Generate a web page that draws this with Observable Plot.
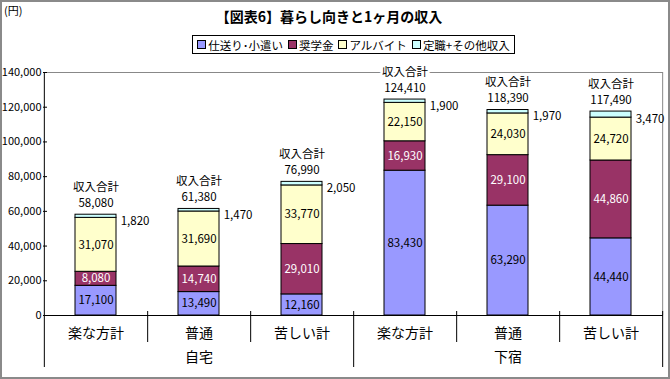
<!DOCTYPE html>
<html><head><meta charset="utf-8">
<script src="https://cdn.jsdelivr.net/npm/d3@7"></script>
<script src="https://cdn.jsdelivr.net/npm/@observablehq/plot@0.6"></script>
<style>
body{margin:0;background:#fff;}
#wrap{position:relative;width:670px;height:379px;font-family:"Noto Sans CJK JP","Noto Sans",sans-serif;overflow:hidden;}
#border{position:absolute;left:0;top:0;width:670px;height:379px;box-sizing:border-box;border:2px solid #8a8a8a;pointer-events:none;}
#title{position:absolute;left:0;width:658px;top:6px;text-align:center;font-size:14px;font-weight:700;color:#000;white-space:nowrap;}
#unit{position:absolute;left:4px;top:2px;font-size:11px;color:#000;}
#legend{position:absolute;left:192px;top:35px;width:323px;height:19px;box-sizing:border-box;border:1px solid #000;display:flex;align-items:center;justify-content:center;gap:5px;font-size:11.5px;color:#000;background:#fff;white-space:nowrap;}
#legend > span{white-space:nowrap;display:inline-flex;align-items:center;}
#legend span.sw{display:inline-block;width:7px;height:7px;border:1px solid #000;margin-right:2px;}
#chart{position:absolute;left:0;top:0;}
</style></head>
<body>
<div id="wrap">
  <div id="chart"></div>
  <div id="unit">(円)</div>
  <div id="title">【図表6】暮らし向きと1ヶ月の収入</div>
  <div id="legend"></div>
  <div id="border"></div>
</div>
<script>
const groups = ["自宅","自宅","自宅","下宿","下宿","下宿"];
const categories = ["楽な方計","普通","苦しい計","楽な方計","普通","苦しい計"];
const series = ["仕送り･小遣い","奨学金","アルバイト","定職+その他収入"];
const colors = ["#9999FF","#993366","#FFFFCC","#CCFFFF"];
const shiokuri = [17100,13490,12160,83430,63290,44440];
const shogakukin = [8080,14740,29010,16930,29100,44860];
const arubaito = [31070,31690,33770,22150,24030,24720];
const teishoku = [1820,1470,2050,1900,1970,3470];
const totals = [58080,61380,76990,124410,118390,117490];
const yTicks = [0,20000,40000,60000,80000,100000,120000,140000];

const keys = categories.map((c,i)=>groups[i]+"/"+c);
const seriesValues = [shiokuri, shogakukin, arubaito, teishoku];
const data = [];
keys.forEach((k,i)=>{
  series.forEach((s,j)=>data.push({key:k, series:s, value:seriesValues[j][i]}));
});
const totalData = keys.map((k,i)=>({key:k,total:totals[i]}));
const groupData = [{key:keys[1],label:"自宅"},{key:keys[4],label:"下宿"}];
const sepData = keys.map((k,i)=>({key:k,long:groups[i]!==groups[i+1]}));

const W=670,H=379,mL=43,mR=7,mT=72,mB=64;
const innerW=W-mL-mR, innerH=H-mT-mB;
const step=innerW/keys.length;
const bw=step*0.4;
const fmt=d3.format(",");

function segText(name){
  return d=>d.series===name?fmt(d.value):null;
}
const stackOpts = (name)=>Plot.stackY({x:"key",y:"value",z:"series",text:segText(name)});

const plot = Plot.plot({
  width:W,height:H,marginLeft:mL,marginRight:mR,marginTop:mT,marginBottom:mB,
  style:{fontFamily:'"Noto Sans CJK JP","Noto Sans",sans-serif',fontSize:"11px",background:"transparent",color:"#000"},
  x:{domain:keys,paddingInner:0.6,paddingOuter:0.3,axis:null},
  y:{domain:[0,140000],axis:null},
  color:{domain:series,range:colors},
  marks:[
    Plot.ruleY([140000],{stroke:"#888",strokeWidth:1}),
    Plot.ruleX(sepData.slice(-1),{x:"key",dx:step/2,stroke:"#888",strokeWidth:1}),
    Plot.barY(data,{x:"key",y:"value",fill:"series",stroke:"#000",strokeWidth:1}),
    Plot.ruleY([0],{stroke:"#000",strokeWidth:1}),
    Plot.ruleX([keys[0]],{x:d=>d,dx:-step/2,stroke:"#000",insetBottom:-52}),
    Plot.ruleX(sepData.filter(d=>!d.long),{x:"key",dx:step/2,stroke:"#000",insetTop:innerH-4,insetBottom:-27}),
    Plot.ruleX(sepData.filter(d=>d.long),{x:"key",dx:step/2,stroke:"#000",insetTop:innerH-4,insetBottom:-52}),
    Plot.ruleY(yTicks,{y:d=>d,stroke:"#000",insetRight:innerW-4}),
    Plot.text(yTicks,{y:d=>d,text:d=>fmt(d),frameAnchor:"left",textAnchor:"end",dx:-2,fontSize:11,fill:"#000"}),
    Plot.text(keys,{x:d=>d,text:d=>d.split("/")[1],frameAnchor:"bottom",dy:22,fontSize:14,fill:"#000"}),
    Plot.text(groupData,{x:"key",text:"label",frameAnchor:"bottom",dy:46,fontSize:14,fill:"#000"}),
    Plot.text(data,{...stackOpts(series[0]),fontSize:11.5,fill:"#000"}),
    Plot.text(data,{...stackOpts(series[1]),fontSize:11.5,fill:"#fff"}),
    Plot.text(data,{...stackOpts(series[2]),fontSize:11.5,fill:"#000"}),
    Plot.text(data,{...stackOpts(series[3]),fontSize:11.5,fill:"#000",textAnchor:"start",dx:bw/2+4,dy:5}),
    Plot.text(totalData,{x:"key",y:"total",text:d=>fmt(d.total),lineAnchor:"bottom",dy:-8,fontSize:11.5,fill:"#000",stroke:"#fff",strokeWidth:5}),
    Plot.text(totalData,{x:"key",y:"total",text:()=>"収入合計",lineAnchor:"bottom",dy:-24,fontSize:11.5,fill:"#000",stroke:"#fff",strokeWidth:5})
  ]
});
document.getElementById("chart").appendChild(plot);

const lg=document.getElementById("legend");
series.forEach((s,i)=>{
  const it=document.createElement("span");
  it.innerHTML=`<span class="sw" style="background:${colors[i]}"></span>${s}`;
  lg.appendChild(it);
});
</script>
</body></html>
